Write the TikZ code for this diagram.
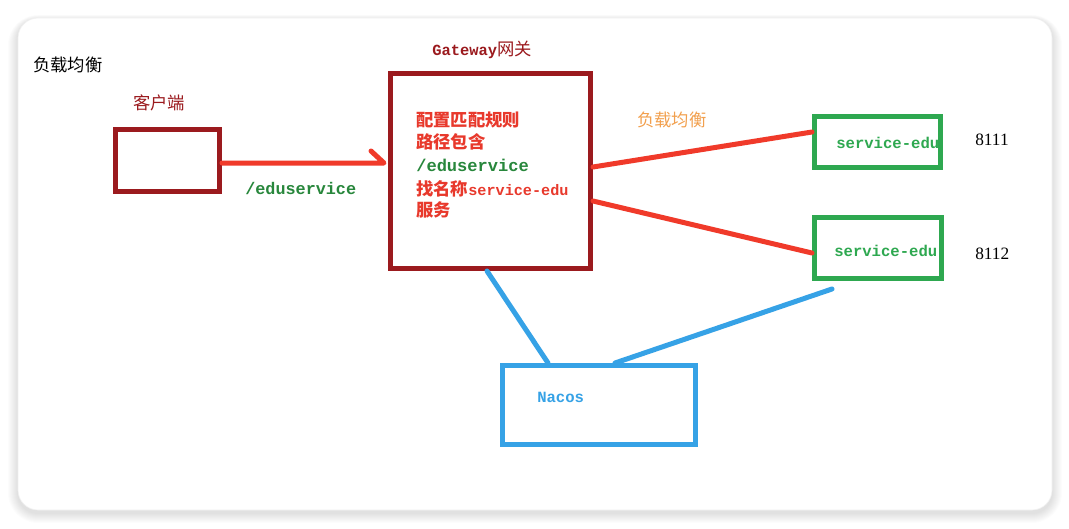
\documentclass[tikz,border=0pt]{standalone}
\usepackage{fontspec}
\usetikzlibrary{fit,calc}
\newfontfamily\cjkf{Noto Sans CJK SC}
\newfontfamily\monof{Liberation Mono}
\newfontfamily\seriff{Liberation Serif}
\definecolor{darkred}{RGB}{155,26,30}
\definecolor{linered}{RGB}{240,58,42}
\definecolor{txtred}{RGB}{232,57,44}
\definecolor{dgreen}{RGB}{40,135,60}
\definecolor{sgreen}{RGB}{46,168,80}
\definecolor{nblue}{RGB}{54,162,230}
\definecolor{orng}{RGB}{242,160,78}
\begin{document}
\begin{tikzpicture}[x=0.75pt,y=-0.75pt,
  boxline/.style={draw=#1, line width=3.75pt, inner sep=0pt},
  conn/.style={draw=#1, line width=3.75pt, line cap=round, line join=round},
  cjktext/.style={inner sep=0pt, anchor=west, font=\cjkf\fontsize{13pt}{14pt}\selectfont},
  cjkbold/.style={inner sep=0pt, anchor=west, font=\cjkf\bfseries\fontsize{13pt}{14pt}\selectfont},
  monotext/.style={inner sep=0pt, anchor=west, font=\monof\bfseries\fontsize{#1}{14pt}\selectfont},
  numtext/.style={inner sep=0pt, anchor=west, font=\seriff\fontsize{13pt}{14pt}\selectfont}]
\useasboundingbox (0,0) rectangle (1069,528);
\fill[white] (0,0) rectangle (1069,528);
% card shadow
\foreach \i [evaluate=\i as \r using 15+0.75*\i] in {1,...,10}
  \fill[black, opacity=0.012, rounded corners=\r pt] (18-\i,18-0.5*\i+2) rectangle (1052+\i,510+\i+3);
\fill[white, rounded corners=15pt] (18,18) rectangle (1052,510);
\draw[black!6, line width=0.5pt, rounded corners=15pt] (18,18) rectangle (1052,510);

% boxes
\node[boxline=darkred, fit={(115.5,129.5)(219.5,191.5)}] (client) {};
\node[boxline=darkred, fit={(390.5,73.5)(590.5,268.5)}] (gw) {};
\node[boxline=sgreen, fit={(814.5,116.5)(940.5,167.5)}] (s1) {};
\node[boxline=sgreen, fit={(814.5,217.5)(941.5,278.5)}] (s2) {};
\node[boxline=nblue, fit={(502.5,365.5)(695.5,444.5)}] (nacos) {};

% labels
\node[cjktext] (title) at (33,65) {负载均衡};
\node[cjktext, text=darkred] (clientlbl) at (133,103) {客户端};
\node[monotext=12.6pt, text=dgreen] (pathlbl) at (245,188) {/eduservice};
\node[inner sep=0pt, anchor=west, text=darkred] (gwlbl) at (432,50) {{\monof\bfseries\fontsize{11.6pt}{14pt}\selectfont Gateway}{\cjkf\fontsize{13pt}{14pt}\selectfont 网关}};
\node[cjkbold, text=txtred] (g1) at (416,120) {配置匹配规则};
\node[cjkbold, text=txtred] (g2) at (416,142) {路径包含};
\node[monotext=12.8pt, text=dgreen] (g3) at (416,165) {/eduservice};
\node[inner sep=0pt, anchor=west, text=txtred] (g4) at (416,189) {{\cjkf\bfseries\fontsize{13pt}{14pt}\selectfont 找名称}{\monof\bfseries\fontsize{11.4pt}{14pt}\selectfont service-edu}};
\node[cjkbold, text=txtred] (g5) at (416,210) {服务};
\node[cjktext, text=orng] (lblb) at (637,120) {负载均衡};
\node[monotext=11.7pt, text=sgreen] (s1t) at (836,143) {service-edu};
\node[monotext=11.7pt, text=sgreen] (s2t) at (834,251) {service-edu};
\node[numtext] (p1) at (975,140) {8111};
\node[numtext] (p2) at (975,254) {8112};
\node[monotext=11.7pt, text=nblue] (nt) at (537,397) {Nacos};

% connectors
\coordinate (atip) at (384,163);
\draw[conn=linered] (client.east |- atip) -- (atip) -- ++(-13,-12);
\draw[conn=linered] (gw.east |- 0,167) -- (s1.west |- 0,132);
\draw[conn=linered] (gw.east |- 0,201) -- (s2.west |- 0,253);
\draw[conn=nblue] (gw.south -| 487,0) -- (nacos.north -| 548,0);
\draw[conn=nblue] ($(s2.south -| 832,0)+(0,8)$) -- (nacos.north -| 615,0);
\end{tikzpicture}
\end{document}
